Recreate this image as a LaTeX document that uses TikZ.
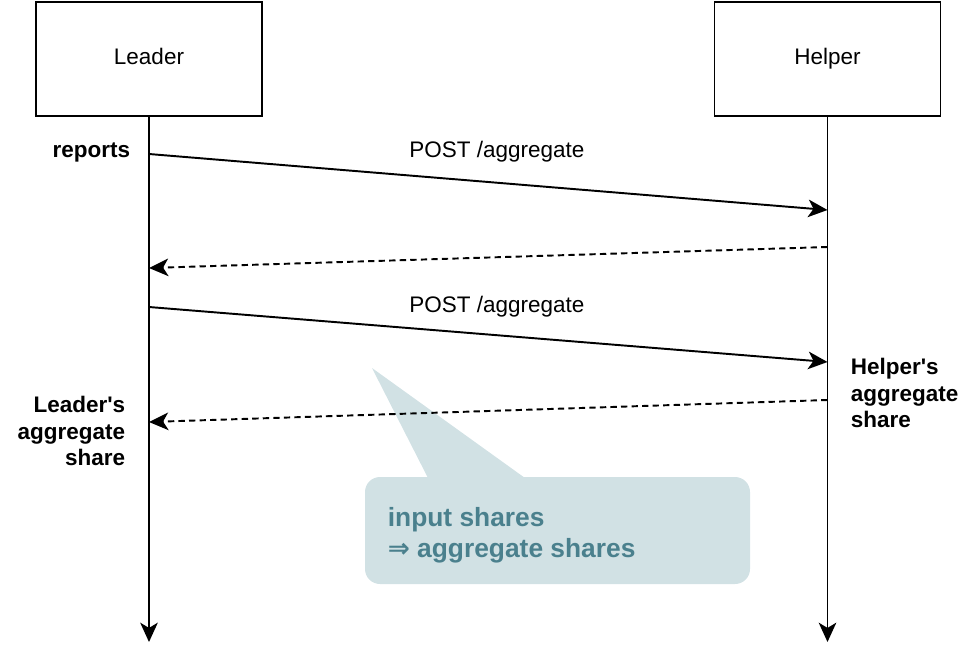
\documentclass[tikz,border=0pt]{standalone}
\usepackage{fontspec}
\setmainfont{Liberation Sans}
\newfontfamily\symfont{DejaVu Sans}
\usetikzlibrary{arrows.meta}
\definecolor{callfill}{HTML}{D1E1E4}
\definecolor{calltext}{HTML}{4A808D}

\tikzset{
	msg/.style={-{Stealth[length=11pt,width=10pt,inset=3pt]}},
	reply/.style={msg, dash pattern=on 3.6pt off 2.4pt},
}

\begin{document}
\begin{tikzpicture}
	[x=0.02cm,y=-0.02cm,line width=1.1pt,font=\fontsize{12.8}{15}\selectfont]
	\tikzstyle{party}=[rectangle, draw, minimum width=4.52cm, minimum height=2.28cm, text height=9pt, text depth=2.5pt];
	\tikzstyle{note}=[font=\fontsize{12.8}{15}\selectfont\bfseries, align=left];

	\useasboundingbox (0,0) rectangle (970,646);

	\node[party] (leader) at (149,59) {Leader};
	\node[party] (helper) at (827.5,59) {Helper};

	\coordinate (leaderend) at (149,642);
	\coordinate (helperend) at (827.5,642);
	\coordinate (l1) at (149,154);
	\coordinate (h1) at (827.5,210);
	\coordinate (h2) at (827.5,247);
	\coordinate (l2) at (149,268);
	\coordinate (l3) at (149,307);
	\coordinate (h3) at (827.5,362);
	\coordinate (h4) at (827.5,400);
	\coordinate (l4) at (149,422);

	% callout
	\fill[callfill, rounded corners=0.3cm] (365,477) rectangle (750,584);
	\fill[callfill] (372,368) -- (428,478) -- (525,478) -- cycle;
	\node[note, text=calltext, anchor=west, font=\fontsize{15}{17.4}\selectfont\bfseries] (shares) at (381,535)
		{input shares\\{\symfont\bfseries ⇒} aggregate shares};

	\draw[msg] (leader.south) -- (leaderend);
	\draw[msg] (helper.south) -- (helperend);

	\path
	(l1) edge[msg] (h1)
	(h2) edge[reply] (l2)
	(l3) edge[msg] (h3)
	(h4) edge[reply] (l4);

	\node (post1) at (497,152) {POST /aggregate};
	\node (post2) at (497,307) {POST /aggregate};

	\node[note, anchor=east] (reports) at (137,152) {reports};
	\node[note, anchor=east, align=right] (leadershare) at (132,431) {Leader\textquotesingle s\\aggregate\\share};
	\node[note, anchor=west] (helpershare) at (844,393) {Helper\textquotesingle s\\aggregate\\share};

\end{tikzpicture}
\end{document}
